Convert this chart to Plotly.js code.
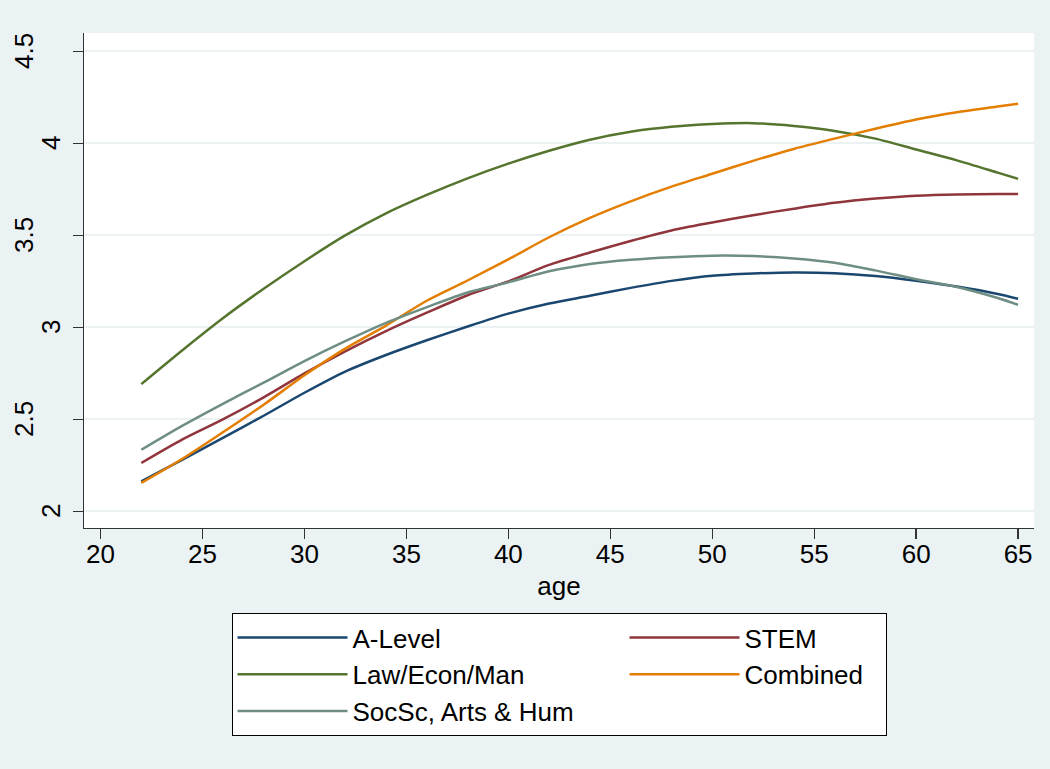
<!DOCTYPE html>
<html>
<head>
<meta charset="utf-8">
<script src="https://cdn.plot.ly/plotly-3.0.1.min.js"></script>
<style>
html,body{margin:0;padding:0;background:#eaf2f3;}
#chart{width:1050px;height:769px;}
</style>
</head>
<body>
<div id="chart"></div>
<script>
// ---- data ----
var ages = [22,24,26,28,30,32,34,36,38,40,42,44,46,48,50,52,54,56,58,60,62,64,65];
var aLevel   = [2.163,2.28,2.40,2.52,2.645,2.76,2.85,2.93,3.005,3.075,3.13,3.172,3.215,3.253,3.281,3.293,3.299,3.295,3.28,3.254,3.222,3.182,3.156];
var stem     = [2.263,2.39,2.50,2.62,2.75,2.87,2.98,3.08,3.175,3.25,3.34,3.407,3.47,3.527,3.57,3.61,3.645,3.677,3.70,3.716,3.723,3.725,3.725];
var lawEcon  = [2.692,2.875,3.05,3.21,3.36,3.50,3.62,3.72,3.81,3.89,3.96,4.02,4.063,4.09,4.105,4.11,4.095,4.068,4.026,3.967,3.908,3.841,3.807];
var combined = [2.155,2.285,2.43,2.58,2.74,2.885,3.01,3.145,3.255,3.37,3.49,3.595,3.685,3.765,3.835,3.905,3.97,4.026,4.08,4.13,4.169,4.20,4.216];
var socSc    = [2.335,2.465,2.585,2.70,2.817,2.925,3.025,3.11,3.19,3.245,3.305,3.345,3.368,3.382,3.39,3.388,3.375,3.352,3.31,3.262,3.22,3.16,3.123];

var seriesNames = ["A-Level","STEM","Law/Econ/Man","Combined","SocSc, Arts & Hum"];
var xTickVals = [20,25,30,35,40,45,50,55,60,65];
var yTickVals = [2,2.5,3,3.5,4,4.5];
var yTickText = ["2","2.5","3","3.5","4","4.5"];
var xTitle = "age";

// ---- styling ----
var colors = ["#1a476f","#90353b","#55752f","#e37e00","#6e8e84"];
var values = [aLevel, stem, lawEcon, combined, socSc];
// legend column layout: left column entries wider, right column narrower
var legendWidths = [267,136,267,136,267];
var FONT = "Liberation Sans, Arial, Helvetica, sans-serif";
var FS = 26;

var traces = values.map(function(v, i){
  return {
    x: ages, y: v, type: "scatter", mode: "lines",
    name: seriesNames[i],
    legendwidth: legendWidths[i],
    line: {color: colors[i], width: 2.5, shape: "spline", smoothing: 0.8},
    hoverinfo: "skip"
  };
});

var annotations = yTickVals.map(function(v, i){
  var t = yTickText[i];
  return {
    xref: "paper", yref: "y", x: 0, y: v,
    text: t, showarrow: false, textangle: -90,
    xanchor: "center", yanchor: "middle",
    xshift: -(19 + 13.5 * t.length),
    font: {family: FONT, size: FS, color: "#000"}
  };
});

var layout = {
  width: 1050, height: 769,
  paper_bgcolor: "#eaf2f3",
  plot_bgcolor: "#ffffff",
  margin: {l: 84, r: 16, t: 33, b: 241, pad: 0},
  font: {family: FONT, size: FS, color: "#000"},
  showlegend: true,
  xaxis: {
    range: [19.19, 65.78],
    tickvals: xTickVals,
    ticks: "outside", ticklen: 10, tickwidth: 1.3, tickcolor: "#333",
    ticklabelstandoff: -8,
    showgrid: false, zeroline: false,
    showline: true, linecolor: "#333", linewidth: 1.3,
    tickfont: {family: FONT, size: FS, color: "#000"},
    title: {text: xTitle, font: {family: FONT, size: FS, color: "#000"}, standoff: 9}
  },
  yaxis: {
    range: [1.91, 4.60],
    tickvals: yTickVals,
    showticklabels: false,
    ticks: "outside", ticklen: 10, tickwidth: 1.3, tickcolor: "#333",
    showgrid: true, gridcolor: "#eaf2f3", gridwidth: 2,
    zeroline: false,
    showline: true, linecolor: "#333", linewidth: 1.3
  },
  legend: {
    orientation: "h",
    x: 0.5, xanchor: "center",
    y: -0.1717, yanchor: "top",
    bgcolor: "#ffffff", bordercolor: "#000", borderwidth: 1,
    font: {family: FONT, size: FS, color: "#000"},
    itemwidth: 110,
    traceorder: "normal",
    itemclick: false, itemdoubleclick: false
  },
  annotations: annotations
};

Plotly.newPlot("chart", traces, layout, {displayModeBar: false, staticPlot: true});
</script>
</body>
</html>
